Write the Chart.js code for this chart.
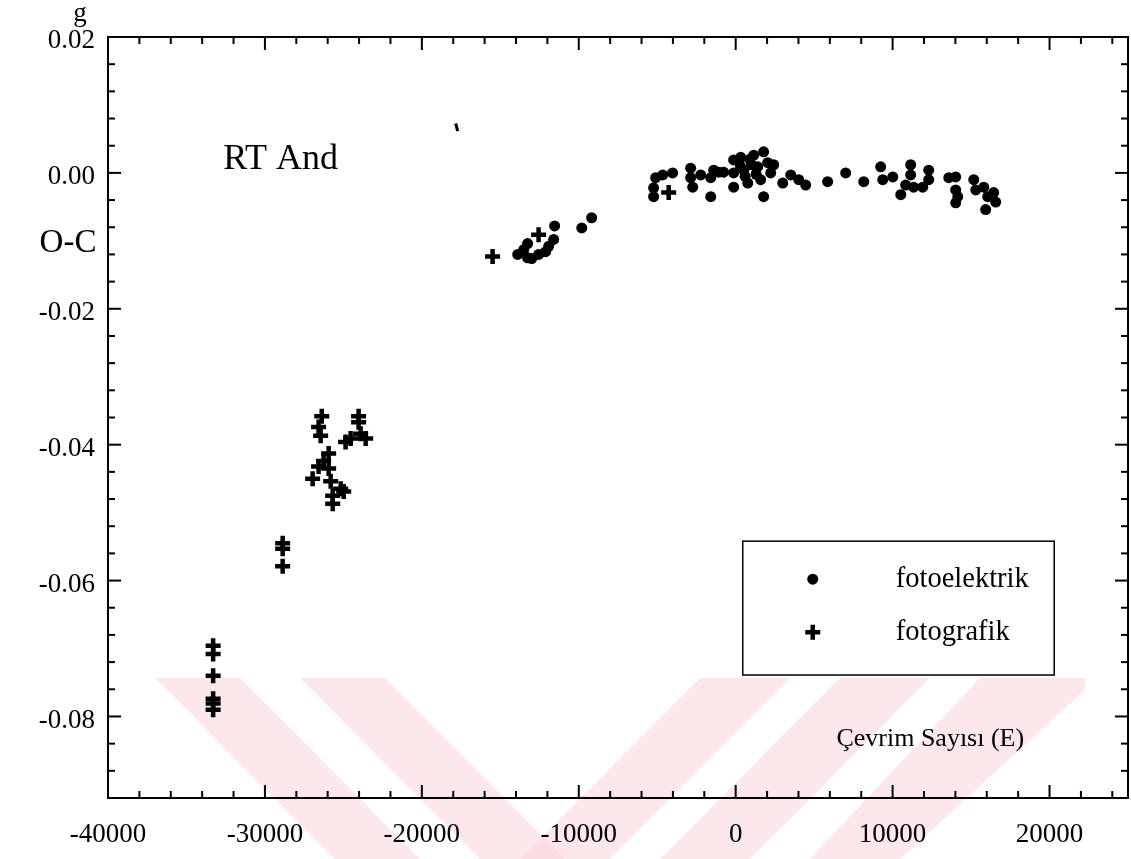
<!DOCTYPE html>
<html>
<head>
<meta charset="utf-8">
<script src="https://cdn.jsdelivr.net/npm/chart.js@4.4.0/dist/chart.umd.min.js"></script>
<style>
body { margin: 0; background: #fff; }
canvas { display: block; }
</style>
</head>
<body>
<canvas id="graph" width="1131" height="859"></canvas>
<script>
// RT And O-C, cycle number E vs O-C (days)
const fotoelektrikE = [
    -13890, -13510, -13260, -13260, -13000, -12560, -12110, -11920, -11600, -11540, -9810, -9180,
    -5100, -5230, -5230, -4650, -4020, -2870, -2870, -2740, -2230, -1590, -1590, -1400, -1080, -770,
    -130, -130, -130, 320, 510, 770, 1150, 1400, 1590, 1780, 2040, 2420, 2230, 1780,
    300, 600, 900, 1000, 1300,
    3000, 3510, 4020, 4460, 5860, 7010, 8160,
    9240, 9370, 10010, 10520, 10830, 11150, 11150, 11340, 11920, 12300, 12300,
    13580, 14020, 14020, 14020, 14150, 15170, 15300, 15810, 15930, 16440, 16570, 16060
];
const fotoelektrikOC = [
    -0.0120, -0.0113, -0.0104, -0.0125, -0.0126, -0.0120, -0.0116, -0.0108, -0.0098, -0.0078, -0.0081, -0.0066,
    -0.0007, -0.0022, -0.0035, -0.0003, 0.0000, 0.0007, -0.0007, -0.0021, -0.0003, -0.0007, -0.0035, 0.0004, 0.0001, 0.0001,
    0.0019, 0.0000, -0.0021, 0.0023, 0.0004, -0.0015, 0.0026, 0.0009, -0.0010, 0.0031, 0.0015, 0.0012, 0.0000, -0.0035,
    0.0010, -0.0005, 0.0020, 0.0012, -0.0002,
    -0.0015, -0.0003, -0.0010, -0.0018, -0.0013, 0.0000, -0.0013,
    0.0009, -0.0010, -0.0006, -0.0032, -0.0018, 0.0012, -0.0003, -0.0021, -0.0021, 0.0004, -0.0010,
    -0.0007, -0.0006, -0.0025, -0.0044, -0.0035, -0.0010, -0.0025, -0.0021, -0.0054, -0.0029, -0.0043, -0.0035
];
const fotografikE = [
    -33300, -33300, -33300, -33300, -33300, -33300,
    -28870, -28870, -28870,
    -26380, -26580, -26450, -24030, -24030, -24540, -23900, -23580, -24860, -25940,
    -26260, -26580, -25940, -26960, -25810, -25170, -24980, -25680, -25680,
    -15490, -12560, -4270
];
const fotografikOC = [
    -0.0696, -0.0708, -0.0740, -0.0774, -0.0781, -0.0790,
    -0.0545, -0.0553, -0.0579,
    -0.0358, -0.0374, -0.0387, -0.0358, -0.0367, -0.0391, -0.0384, -0.0391, -0.0396, -0.0413,
    -0.0424, -0.0432, -0.0435, -0.0450, -0.0454, -0.0465, -0.0469, -0.0475, -0.0487,
    -0.0123, -0.0091, -0.0029
];
// lone mark above the curve
const strayE = [-17780];
const strayOC = [0.0067];

const xTicks = [-40000, -30000, -20000, -10000, 0, 10000, 20000];
const yTicks = [0.02, 0.00, -0.02, -0.04, -0.06, -0.08];

const serif = 'Liberation Serif';

function toPoints(xs, ys) {
    return xs.map((v, i) => ({x: v, y: ys[i]}));
}

function line(ctx, x1, y1, x2, y2) {
    ctx.beginPath();
    ctx.moveTo(x1, y1);
    ctx.lineTo(x2, y2);
    ctx.stroke();
}

// pale pink watermark of the scan
const watermark = {
    id: 'watermark',
    beforeDraw(chart) {
        const ctx = chart.ctx;
        ctx.save();
        ctx.fillStyle = 'rgba(250, 215, 222, 0.6)';
        const bands = [
            [[155, 678], [240, 678], [420, 859], [335, 859]],
            [[300, 678], [385, 678], [565, 859], [480, 859]],
            [[700, 678], [790, 678], [610, 859], [520, 859]],
            [[840, 678], [930, 678], [750, 859], [660, 859]],
            [[980, 678], [1085, 678], [1085, 690], [900, 859], [810, 859]]
        ];
        bands.forEach(b => {
            ctx.beginPath();
            ctx.moveTo(b[0][0], b[0][1]);
            b.slice(1).forEach(p => ctx.lineTo(p[0], p[1]));
            ctx.closePath();
            ctx.fill();
        });
        ctx.restore();
    }
};

const frame = {
    id: 'frame',
    afterDraw(chart) {
        const ctx = chart.ctx;
        const a = chart.chartArea;
        const x = chart.scales.x;
        const y = chart.scales.y;
        ctx.save();
        ctx.strokeStyle = '#000';
        ctx.lineWidth = 2;
        ctx.strokeRect(a.left, a.top, a.right - a.left, a.bottom - a.top);

        for (let v = -40000; v <= 25000; v += 2000) {
            const px = x.getPixelForValue(v);
            const len = v % 10000 === 0 ? 13 : 7;
            line(ctx, px, a.bottom, px, a.bottom - len);
            line(ctx, px, a.top, px, a.top + len);
        }
        for (let i = 0; i <= 28; i++) {
            const py = y.getPixelForValue(0.02 - i * 0.004);
            const len = i % 5 === 0 ? 13 : 7;
            line(ctx, a.left, py, a.left + len, py);
            line(ctx, a.right, py, a.right - len, py);
        }

        // texts
        ctx.fillStyle = '#000';
        ctx.textBaseline = 'middle';
        ctx.textAlign = 'center';
        ctx.font = '27px "' + serif + '"';
        ctx.fillText('g', 80, 14);
        ctx.font = '33px "' + serif + '"';
        ctx.fillText('O-C', 68, 243);
        ctx.font = '36px "' + serif + '"';
        ctx.fillText('RT And', x.getPixelForValue(-29000), y.getPixelForValue(0.0019));
        ctx.font = '26px "' + serif + '"';
        ctx.fillText('Çevrim Sayısı (E)', x.getPixelForValue(12400), y.getPixelForValue(-0.0834));

        // legend box
        const bl = x.getPixelForValue(450), br = x.getPixelForValue(20300);
        const bt = y.getPixelForValue(-0.0542), bb = y.getPixelForValue(-0.0739);
        ctx.lineWidth = 1.5;
        ctx.strokeRect(bl, bt, br - bl, bb - bt);

        ctx.font = '28.5px "' + serif + '"';
        const ds = chart.data.datasets;
        const rows = [
            {d: ds[1], cy: bt + 38},
            {d: ds[0], cy: bt + 91}
        ];
        rows.forEach(r => {
            ctx.fillStyle = '#000';
            ctx.strokeStyle = '#000';
            ctx.lineWidth = r.d.borderWidth;
            Chart.helpers.drawPoint(ctx, {
                pointStyle: r.d.pointStyle,
                radius: r.d.pointRadius,
                borderWidth: r.d.borderWidth,
                rotation: 0
            }, bl + 70, r.cy);
            ctx.textAlign = 'left';
            ctx.fillText(r.d.label, bl + 153, r.cy);
        });
        ctx.restore();
    }
};

const tickFont = {family: serif, size: 27};

new Chart(document.getElementById('graph'), {
    type: 'scatter',
    data: {
        datasets: [
            {
                label: 'fotografik',
                data: toPoints(fotografikE, fotografikOC),
                pointStyle: 'cross',
                pointRadius: 7.5,
                borderWidth: 4.5,
                borderColor: '#000',
                backgroundColor: '#000',
                order: 0
            },
            {
                label: 'fotoelektrik',
                data: toPoints(fotoelektrikE, fotoelektrikOC),
                pointStyle: 'circle',
                pointRadius: 5.5,
                borderWidth: 0,
                borderColor: '#000',
                backgroundColor: '#000',
                order: 1
            },
            {
                label: '',
                data: toPoints(strayE, strayOC),
                pointStyle: 'line',
                rotation: 75,
                pointRadius: 4,
                borderWidth: 3,
                borderColor: '#000',
                backgroundColor: '#000',
                order: 2
            }
        ]
    },
    options: {
        responsive: false,
        animation: false,
        layout: {autoPadding: false, padding: {top: 37, right: 3, left: 0, bottom: 0}},
        plugins: {
            legend: {display: false},
            tooltip: {enabled: false}
        },
        scales: {
            x: {
                type: 'linear',
                min: -40000,
                max: 25000,
                afterBuildTicks: s => { s.ticks = xTicks.map(v => ({value: v})); },
                afterFit: s => { s.height = 61; },
                grid: {display: false, drawTicks: false},
                border: {display: false},
                ticks: {
                    padding: 21,
                    color: '#000',
                    font: tickFont,
                    maxRotation: 0,
                    autoSkip: false,
                    callback: v => String(v)
                }
            },
            y: {
                type: 'linear',
                min: -0.092,
                max: 0.02,
                afterBuildTicks: s => { s.ticks = yTicks.map(v => ({value: v})); },
                afterFit: s => { s.width = 108; },
                grid: {display: false, drawTicks: false},
                border: {display: false},
                ticks: {
                    padding: 13,
                    labelOffset: 4,
                    color: '#000',
                    font: tickFont,
                    autoSkip: false,
                    callback: v => v.toFixed(2)
                }
            }
        }
    },
    plugins: [watermark, frame]
});
</script>
</body>
</html>
